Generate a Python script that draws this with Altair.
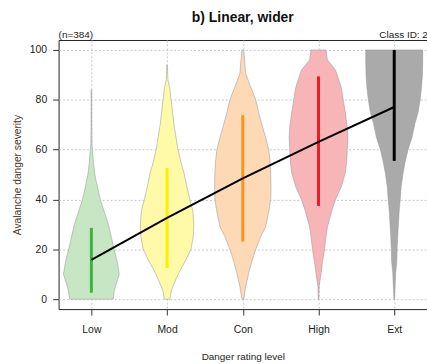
import altair as alt
import pandas as pd

# Danger rating levels and their colours
categories = ["Low", "Mod", "Con", "High", "Ext"]
fill_colors = ["#c7e6c3", "#fefaa8", "#fdd9b5", "#f8b5b8", "#aaaaaa"]
line_colors = ["#3cb43c", "#ffee00", "#f7941d", "#ee1c24", "#000000"]

# Violin profiles: severity levels and relative density at each level
low_levels = [0, 3, 6, 10, 15, 20, 25, 30, 35, 40, 45, 50, 55, 60, 62, 70, 84]
low_density = [0.76, 0.79, 0.86, 0.97, 0.90, 0.79, 0.69, 0.59, 0.45, 0.31, 0.21, 0.12, 0.07, 0.04, 0.02, 0.01, 0.01]

mod_levels = [0, 3, 5.3, 8, 10.6, 15, 20, 25, 29, 35, 40, 45, 50.6, 55, 60, 65, 70, 75, 80, 85, 88, 94]
mod_density = [0.10, 0.14, 0.21, 0.31, 0.41, 0.62, 0.83, 0.91, 0.93, 0.90, 0.79, 0.69, 0.59, 0.48, 0.38, 0.31, 0.24, 0.19, 0.14, 0.09, 0.03, 0.01]

con_levels = [0, 5, 10.6, 15, 20, 25, 29, 35, 40, 45, 50.6, 55, 60, 65, 69, 75, 80, 85, 90.5, 95, 100]
con_density = [0.03, 0.10, 0.21, 0.31, 0.45, 0.62, 0.79, 0.90, 0.97, 0.98, 0.97, 0.95, 0.90, 0.79, 0.69, 0.55, 0.45, 0.28, 0.10, 0.07, 0.03]

high_levels = [0, 5, 10.6, 15, 20, 25, 29, 35, 40, 45, 50.6, 55, 60, 65, 69, 75, 80, 85, 92, 96, 100]
high_density = [0.01, 0.02, 0.09, 0.14, 0.21, 0.26, 0.31, 0.45, 0.59, 0.79, 0.93, 0.98, 1.00, 1.02, 1.00, 0.93, 0.86, 0.79, 0.59, 0.31, 0.26]

ext_levels = [0, 5, 10.6, 15, 20, 25, 29, 35, 40, 45, 50.6, 55, 60, 65, 70.5, 75, 80, 85, 90, 95, 100]
ext_density = [0.01, 0.03, 0.05, 0.09, 0.10, 0.12, 0.14, 0.17, 0.21, 0.24, 0.31, 0.38, 0.48, 0.62, 0.72, 0.83, 0.90, 0.95, 0.98, 0.99, 0.99]

# Interquartile ranges and medians per level
q1 = [2.6, 12.5, 23.1, 37.4, 55.5]
q3 = [28.6, 52.7, 73.8, 89.4, 100]
medians = [15.8, 32.6, 48.5, 63.1, 77.1]

chart_title = "b) Linear, wider"
corner_notes = ["(n=384)", "Class ID: 2"]

profiles = [
    (low_levels, low_density),
    (mod_levels, mod_density),
    (con_levels, con_density),
    (high_levels, high_density),
    (ext_levels, ext_density),
]

rows = []
for i, (cat, (levels, dens)) in enumerate(zip(categories, profiles)):
    for lv, d in zip(levels, dens):
        rows.append({"cat": cat, "pos": i + 1, "value": lv, "density": d})
violin_df = pd.DataFrame(rows)

summary_df = pd.DataFrame({
    "cat": categories,
    "pos": list(range(1, len(categories) + 1)),
    "q1": q1,
    "q3": q3,
    "median": medians,
})

PLOT_W, PLOT_H = 371, 271
FONT = "Liberation Sans"
half_width = 0.38
x_scale = alt.Scale(domain=[0.567, 5.433], nice=False, zero=False)
y_scale = alt.Scale(domain=[-4, 104], nice=False, zero=False)
label_expr = "[" + ",".join(f"'{c}'" for c in categories) + "][datum.value - 1]"

x_axis = alt.Axis(
    values=list(range(1, len(categories) + 1)),
    labelExpr=label_expr,
    title="Danger rating level",
    titleFontSize=10,
    titleFontWeight="normal",
    titleColor="#222222",
    titlePadding=16,
    labelPadding=10,
)
y_axis = alt.Axis(
    values=[0, 20, 40, 60, 80, 100],
    title="Avalanche danger severity",
    titleFontSize=10.3,
    titleFontWeight="normal",
    titleColor="#4a3728",
    titlePadding=7,
    labelPadding=6,
)

fill_scale = alt.Scale(domain=categories, range=fill_colors)
line_scale = alt.Scale(domain=categories, range=line_colors)

violins = (
    alt.Chart(violin_df)
    .transform_calculate(
        lo=f"datum.pos - datum.density * {half_width}",
        hi=f"datum.pos + datum.density * {half_width}",
    )
    .mark_area(orient="horizontal", stroke="#9a9a9a", strokeOpacity=0.55, strokeWidth=1)
    .encode(
        y=alt.Y("value:Q", scale=y_scale, axis=y_axis),
        x=alt.X("lo:Q", scale=x_scale, axis=x_axis),
        x2="hi:Q",
        fill=alt.Fill("cat:N", scale=fill_scale, legend=None),
        detail="cat:N",
    )
)

iqr = (
    alt.Chart(summary_df)
    .mark_rule(strokeWidth=3)
    .encode(
        x=alt.X("pos:Q", scale=x_scale),
        y=alt.Y("q1:Q", scale=y_scale),
        y2="q3:Q",
        color=alt.Color("cat:N", scale=line_scale, legend=None),
    )
)

trend = (
    alt.Chart(summary_df)
    .mark_line(color="black", strokeWidth=2)
    .encode(
        x=alt.X("pos:Q", scale=x_scale),
        y=alt.Y("median:Q", scale=y_scale),
    )
)

# Header texts: title above the frame, sample size and class id on the frame
title_text = (
    alt.Chart(pd.DataFrame({"t": [chart_title]}))
    .mark_text(align="center", baseline="alphabetic", fontSize=14, fontWeight="bold", font=FONT, color="#111111")
    .encode(x=alt.value(PLOT_W / 2), y=alt.value(-18), text="t:N")
)
notes_df = pd.DataFrame({"note": corner_notes})
left_note = (
    alt.Chart(notes_df.iloc[[0]])
    .mark_text(align="left", baseline="alphabetic", fontSize=10, font=FONT, color="#222222")
    .encode(x=alt.value(0), y=alt.value(-2), text="note:N")
)
right_note = (
    alt.Chart(notes_df.iloc[[1]])
    .mark_text(align="left", baseline="alphabetic", fontSize=10, font=FONT, color="#222222")
    .encode(x=alt.value(323), y=alt.value(-2), text="note:N")
)

chart = (
    alt.layer(violins, iqr, trend, title_text, left_note, right_note)
    .properties(
        width=PLOT_W,
        height=PLOT_H,
        autosize=alt.AutoSizeParams(type="none"),
        padding={"left": 59, "top": 39, "right": 0, "bottom": 54},
    )
    .configure_view(stroke="#222222", strokeWidth=1)
    .configure_axis(
        labelFont=FONT,
        titleFont=FONT,
        labelFontSize=10.5,
        labelColor="#222222",
        tickColor="#333333",
        tickSize=6,
        domain=False,
        grid=True,
        gridColor="#c8c8c8",
        gridDash=[2, 2],
        gridWidth=1,
    )
)

chart.save("out.html", embed_options={"renderer": "svg", "actions": False})
